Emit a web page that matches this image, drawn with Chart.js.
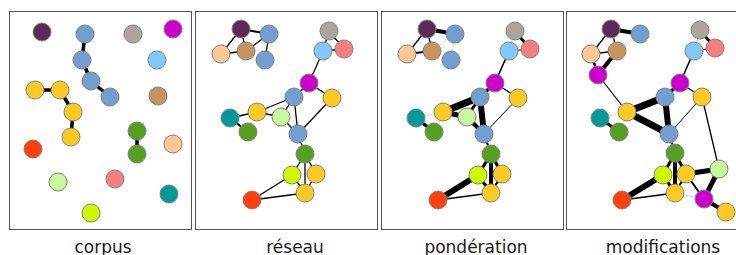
<!DOCTYPE html>
<html>
<head>
<meta charset="utf-8">
<script src="https://cdn.jsdelivr.net/npm/chart.js@4/dist/chart.umd.min.js"></script>
<style>
    body { margin: 0; width: 736px; height: 255px; overflow: hidden; background: #fff; position: relative; }
    .panel { position: absolute; top: 11px; width: 183px; height: 219px; box-sizing: border-box; border: 1px solid #555; }
    canvas { position: absolute; top: 11px; }
    .titre { position: absolute; top: 237px; width: 160px; margin-left: -80px; text-align: center;
             font: 17px "DejaVu Sans", sans-serif; color: #1a1a1a; }
</style>
</head>
<body>
<div class="panel" style="left:9px"></div>
<div class="panel" style="left:195px"></div>
<div class="panel" style="left:381px"></div>
<div class="panel" style="left:566px"></div>
<canvas id="p-corpus" width="183" height="219" style="left:9px"></canvas>
<canvas id="p-reseau" width="183" height="219" style="left:195px"></canvas>
<canvas id="p-ponderation" width="183" height="219" style="left:381px"></canvas>
<canvas id="p-modifications" width="183" height="219" style="left:566px"></canvas>
<div class="titre" style="left:103px">corpus</div>
<div class="titre" style="left:295px">réseau</div>
<div class="titre" style="left:476px">pondération</div>
<div class="titre" style="left:663px">modifications</div>

<script>
// couleurs des groupes
const groupColors = {
    prune: '#5d2a57', bleu: '#729fcf', gris: '#aba59e', magenta: '#cc00cc',
    ciel: '#80c8f8', brun: '#c6945f', jaune: '#fbca25', vert: '#559f22',
    rouge: '#fc410d', peche: '#fdc796', vertClair: '#c9f99a', rose: '#f47e80',
    sarcelle: '#009899', citron: '#ccf800'
};

// --- corpus ---
const corpusX = [33, 76, 124, 164, 73, 148, 82, 101, 149, 26, 51, 64, 62, 128, 128, 24, 164, 49, 106, 160, 82];
const corpusY = [21, 23, 23, 18, 49, 49, 70, 86, 85, 79, 79, 101, 126, 120, 143, 138, 133, 171, 168, 183, 202];
const corpusGroup = ['prune', 'bleu', 'gris', 'magenta', 'bleu', 'ciel', 'bleu', 'bleu', 'brun', 'jaune', 'jaune',
    'jaune', 'jaune', 'vert', 'vert', 'rouge', 'peche', 'vertClair', 'rose', 'sarcelle', 'citron'];
const corpusEdges = [[1, 4, 3.5], [4, 6, 3.5], [6, 7, 3.5], [9, 10, 3.5], [10, 11, 3.5], [11, 12, 3.5], [13, 14, 3.5]];

// --- réseau / pondération (même disposition) ---
const reseauX = [46, 74, 26, 51, 70, 134, 128, 149, 114, 137, 99, 62, 86, 35, 53, 103, 110, 97, 121, 110, 57];
const reseauY = [18, 23, 43, 40, 49, 20, 40, 38, 72, 87, 86, 101, 106, 107, 121, 123, 143, 164, 163, 182, 189];
const reseauGroup = ['prune', 'bleu', 'peche', 'brun', 'bleu', 'gris', 'ciel', 'rose', 'magenta', 'jaune', 'bleu',
    'jaune', 'vertClair', 'sarcelle', 'vert', 'bleu', 'vert', 'citron', 'jaune', 'jaune', 'rouge'];
const reseauEdges = [[0, 1, 2], [0, 2, 1.3], [0, 3, 1.3], [2, 3, 1.3], [3, 1, 1.3], [1, 4, 1.3], [5, 6, 1.3],
    [5, 7, 1.3], [6, 7, 1.3], [6, 8, 1.3], [8, 9, 1.3], [8, 10, 1.3], [10, 11, 1.3], [10, 12, 1.3], [10, 15, 1.3],
    [9, 15, 1.3], [11, 12, 1.3], [11, 13, 1.3], [13, 14, 2], [12, 15, 1.3], [15, 16, 1.3], [16, 17, 1.3],
    [16, 18, 1.3], [16, 19, 1.3], [17, 19, 1.3], [18, 19, 1.3], [17, 20, 1.3], [20, 19, 1.3]];
// poids de chaque lien, même ordre que reseauEdges
const ponderationWeights = [4, 1.3, 1.3, 2, 0.5, 0.5, 0.8, 3, 1, 1.5, 1.3, 3.5, 7, 3, 6, 1, 5, 0.5, 3, 4, 2, 3,
    3, 4, 3, 2, 6, 1.3];

// --- modifications ---
const modifX = [45, 74, 25, 51, 32, 134, 128, 149, 114, 136, 99, 61, 34, 53, 103, 109, 97, 120, 153, 109, 56, 138, 160];
const modifY = [18, 23, 43, 40, 64, 19, 40, 37, 72, 86, 86, 101, 107, 121, 123, 142, 164, 163, 158, 182, 189, 188, 201];
const modifGroup = ['prune', 'bleu', 'peche', 'brun', 'magenta', 'gris', 'ciel', 'rose', 'magenta', 'jaune', 'bleu',
    'jaune', 'sarcelle', 'vert', 'bleu', 'vert', 'citron', 'jaune', 'vertClair', 'jaune', 'rouge', 'magenta', 'jaune'];
const modifEdges = [[0, 1, 4], [0, 2, 1.3], [0, 3, 1.3], [2, 3, 1.5], [3, 1, 0.5], [2, 4, 2.5], [3, 4, 4],
    [4, 11, 1.2], [5, 6, 0.8], [5, 7, 3], [6, 7, 1], [6, 8, 1.5], [8, 9, 1.3], [8, 10, 3.5], [10, 11, 7],
    [10, 14, 6], [11, 14, 7], [9, 14, 1], [9, 18, 1.3], [11, 12, 0.5], [12, 13, 3], [14, 15, 2], [15, 16, 3],
    [15, 17, 3], [15, 19, 4], [16, 19, 3], [17, 19, 2], [16, 20, 6], [20, 19, 1.3], [17, 18, 5], [18, 21, 5],
    [17, 21, 2], [19, 21, 0.6], [21, 22, 4]];

function drawGraph(canvasId, xs, ys, groups, edges) {
    const nodes = xs.map((x, i) => ({ x, y: ys[i] }));
    const datasets = [{
        type: 'scatter',
        data: nodes,
        pointRadius: 9,
        pointHoverRadius: 9,
        pointBackgroundColor: groups.map(g => groupColors[g]),
        pointBorderColor: '#808080',
        pointBorderWidth: 1,
        order: 0,
        clip: false,
    }];
    // les liens sous les noeuds ; poids faibles en gris
    for (const [a, b, w] of edges) {
        datasets.push({
            type: 'line',
            data: [{ ...nodes[a] }, { ...nodes[b] }],
            borderColor: w < 1 ? '#b5b5b5' : '#000',
            borderWidth: w,
            pointRadius: 0,
            fill: false,
            order: 1,
            clip: false,
        });
    }
    new Chart(document.getElementById(canvasId), {
        type: 'scatter',
        data: { datasets },
        options: {
            responsive: false, animation: false,
            layout: { padding: 0, autoPadding: false },
            plugins: { legend: { display: false }, tooltip: { enabled: false } },
            events: [],
            scales: {
                x: { type: 'linear', min: 0, max: 183, display: false },
                y: { type: 'linear', min: 0, max: 219, reverse: true, display: false }
            }
        }
    });
}

drawGraph('p-corpus', corpusX, corpusY, corpusGroup, corpusEdges);
drawGraph('p-reseau', reseauX, reseauY, reseauGroup, reseauEdges);
drawGraph('p-ponderation', reseauX, reseauY, reseauGroup,
    reseauEdges.map(([a, b], i) => [a, b, ponderationWeights[i]]));
drawGraph('p-modifications', modifX, modifY, modifGroup, modifEdges);
</script>
</body>
</html>
